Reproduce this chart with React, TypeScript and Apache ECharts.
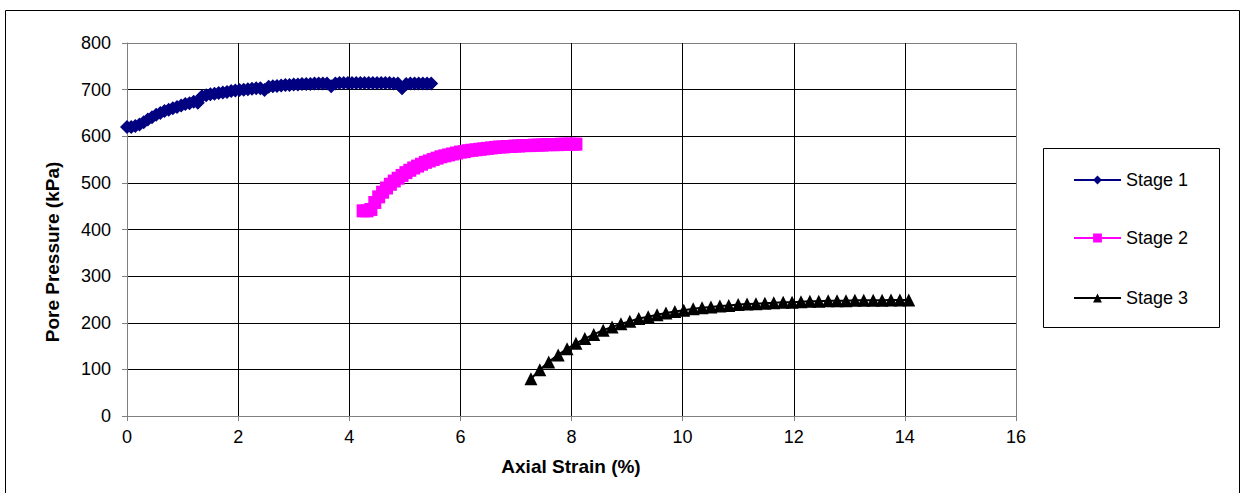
import React, { useEffect, useRef } from "react";
import * as echarts from "echarts";

// Axial strain (%) vs pore pressure (kPa) for the three loading stages
const stage1: [number, number][] = [
  [0.0, 620], [0.075, 620], [0.15, 622], [0.225, 625], [0.3, 630], [0.375, 636],
  [0.45, 641], [0.525, 646], [0.6, 650], [0.675, 654], [0.75, 657], [0.825, 660],
  [0.9, 663], [0.975, 666], [1.05, 669], [1.125, 671], [1.2, 674], [1.275, 672],
  [1.35, 686], [1.425, 688], [1.5, 690], [1.575, 691], [1.65, 693], [1.725, 694],
  [1.8, 695], [1.875, 697], [1.95, 698], [2.025, 699], [2.1, 700], [2.175, 701],
  [2.25, 702], [2.325, 703], [2.4, 703], [2.475, 699], [2.55, 706], [2.625, 707],
  [2.7, 708], [2.775, 709], [2.85, 710], [2.925, 710], [3.0, 711], [3.075, 711],
  [3.15, 712], [3.225, 712], [3.3, 712], [3.375, 713], [3.45, 713], [3.525, 713],
  [3.6, 713], [3.675, 707], [3.75, 713], [3.825, 714], [3.9, 714], [3.975, 714],
  [4.05, 714], [4.125, 714], [4.2, 714], [4.275, 714], [4.35, 714], [4.425, 714],
  [4.5, 714], [4.575, 714], [4.65, 714], [4.725, 714], [4.8, 713], [4.875, 713],
  [4.95, 703], [5.025, 712], [5.1, 713], [5.175, 713], [5.25, 713], [5.325, 713],
  [5.4, 713], [5.475, 713],
];

const stage2: [number, number][] = [
  [4.25, 440], [4.32, 440], [4.39, 443], [4.46, 458], [4.53, 470], [4.6, 480],
  [4.67, 489], [4.74, 497], [4.81, 504], [4.88, 510], [4.95, 516], [5.02, 522],
  [5.09, 527], [5.16, 532], [5.23, 536], [5.3, 540], [5.37, 544], [5.44, 547],
  [5.51, 550], [5.58, 553], [5.65, 556], [5.72, 558], [5.79, 560], [5.86, 562],
  [5.93, 564], [6.0, 566], [6.07, 567], [6.14, 569], [6.21, 570], [6.28, 571],
  [6.35, 572], [6.42, 573], [6.49, 574], [6.56, 575], [6.63, 576], [6.7, 577],
  [6.77, 577], [6.84, 578], [6.91, 578], [6.98, 579], [7.05, 579], [7.12, 580],
  [7.19, 580], [7.26, 580], [7.33, 581], [7.4, 581], [7.47, 581], [7.54, 582],
  [7.61, 582], [7.68, 582], [7.75, 582], [7.82, 583], [7.89, 583], [7.96, 583],
  [8.03, 583], [8.08, 583],
];

const stage3: [number, number][] = [
  [7.27, 80], [7.43, 99], [7.59, 116], [7.76, 131], [7.92, 144], [8.08, 156],
  [8.24, 166], [8.4, 175], [8.57, 184], [8.73, 191], [8.89, 198], [9.05, 203],
  [9.21, 209], [9.38, 213], [9.54, 217], [9.7, 221], [9.86, 224], [10.02, 227],
  [10.19, 230], [10.35, 232], [10.51, 234], [10.67, 236], [10.83, 237], [11.0, 239],
  [11.16, 240], [11.32, 241], [11.48, 242], [11.64, 243], [11.81, 244], [11.97, 244],
  [12.13, 245], [12.29, 246], [12.45, 246], [12.62, 247], [12.78, 247], [12.94, 247],
  [13.1, 248], [13.26, 248], [13.43, 248], [13.59, 248], [13.75, 249], [13.91, 249],
  [14.07, 249],
];

const seriesNames = ["Stage 1", "Stage 2", "Stage 3"];
const seriesColors = ["#000080", "#FF00FF", "#000000"];
const seriesSymbols = ["diamond", "rect", "triangle"];
const seriesSymbolSizes = [14, 13, 13];

const xTitle = "Axial Strain (%)";
const yTitle = "Pore Pressure (kPa)";

const FONT = "'Liberation Sans', Arial, sans-serif";

// Plot-area frame lines are grey, inner grid lines black
const frameGrid = ["#808080", "#000", "#000", "#000", "#000", "#000", "#000", "#000", "#808080"];

export default function App() {
  const ref = useRef<HTMLDivElement>(null);

  useEffect(() => {
    if (!ref.current) return;
    const chart = echarts.init(ref.current, undefined, { renderer: "svg" });
    const data = [stage1, stage2, stage3];
    const legendCenters = [180, 238, 298];

    chart.setOption({
      animation: false,
      backgroundColor: "#fff",
      textStyle: { fontFamily: FONT },
      grid: { left: 127, right: 229, top: 43, bottom: 77, containLabel: false },
      xAxis: {
        type: "value",
        min: 0,
        max: 16,
        interval: 2,
        axisLine: { show: true, onZero: false, lineStyle: { color: "#808080", width: 1 } },
        axisTick: { show: true, length: 5, inside: false, lineStyle: { color: "#808080" } },
        axisLabel: { color: "#000", fontSize: 18, fontFamily: FONT, margin: 12 },
        splitLine: { show: true, lineStyle: { color: frameGrid, width: 1 } },
      },
      yAxis: {
        type: "value",
        min: 0,
        max: 800,
        interval: 100,
        axisLine: { show: true, onZero: false, lineStyle: { color: "#808080", width: 1 } },
        axisTick: { show: true, length: 5, inside: false, lineStyle: { color: "#808080" } },
        axisLabel: { color: "#000", fontSize: 18, fontFamily: FONT, margin: 16 },
        splitLine: { show: true, lineStyle: { color: frameGrid, width: 1 } },
      },
      legend: seriesNames.map((name, i) => ({
        data: [name],
        orient: "vertical",
        left: 1073,
        top: legendCenters[i] - 9,
        padding: 0,
        itemWidth: 47,
        itemHeight: 11,
        selectedMode: false,
        textStyle: { color: "#000", fontSize: 18, fontFamily: FONT },
      })),
      series: seriesNames.map((name, i) => ({
        type: "line",
        name,
        data: data[i],
        symbol: seriesSymbols[i],
        symbolSize: seriesSymbolSizes[i],
        showAllSymbol: true,
        lineStyle: { color: seriesColors[i], width: 2 },
        itemStyle: { color: seriesColors[i] },
        emphasis: { disabled: true },
      })),
      graphic: [
        {
          type: "rect",
          shape: { x: 5.5, y: 10.5, width: 1234, height: 500 },
          style: { fill: "none", stroke: "#000", lineWidth: 1 },
          silent: true,
        },
        {
          type: "rect",
          shape: { x: 1043.5, y: 148.5, width: 176, height: 179 },
          style: { fill: "none", stroke: "#000", lineWidth: 1 },
          silent: true,
        },
        {
          type: "text",
          x: 571,
          y: 466,
          style: {
            text: xTitle,
            fill: "#000",
            font: `bold 19px ${FONT}`,
            textAlign: "center",
            textVerticalAlign: "middle",
          },
          silent: true,
        },
        {
          type: "text",
          x: 52,
          y: 252,
          rotation: Math.PI / 2,
          style: {
            text: yTitle,
            fill: "#000",
            font: `bold 19px ${FONT}`,
            textAlign: "center",
            textVerticalAlign: "middle",
          },
          silent: true,
        },
      ],
    });

    return () => chart.dispose();
  }, []);

  return (
    <div
      ref={ref}
      style={{ position: "fixed", left: 0, top: 0, width: 1245, height: 493 }}
    />
  );
}
